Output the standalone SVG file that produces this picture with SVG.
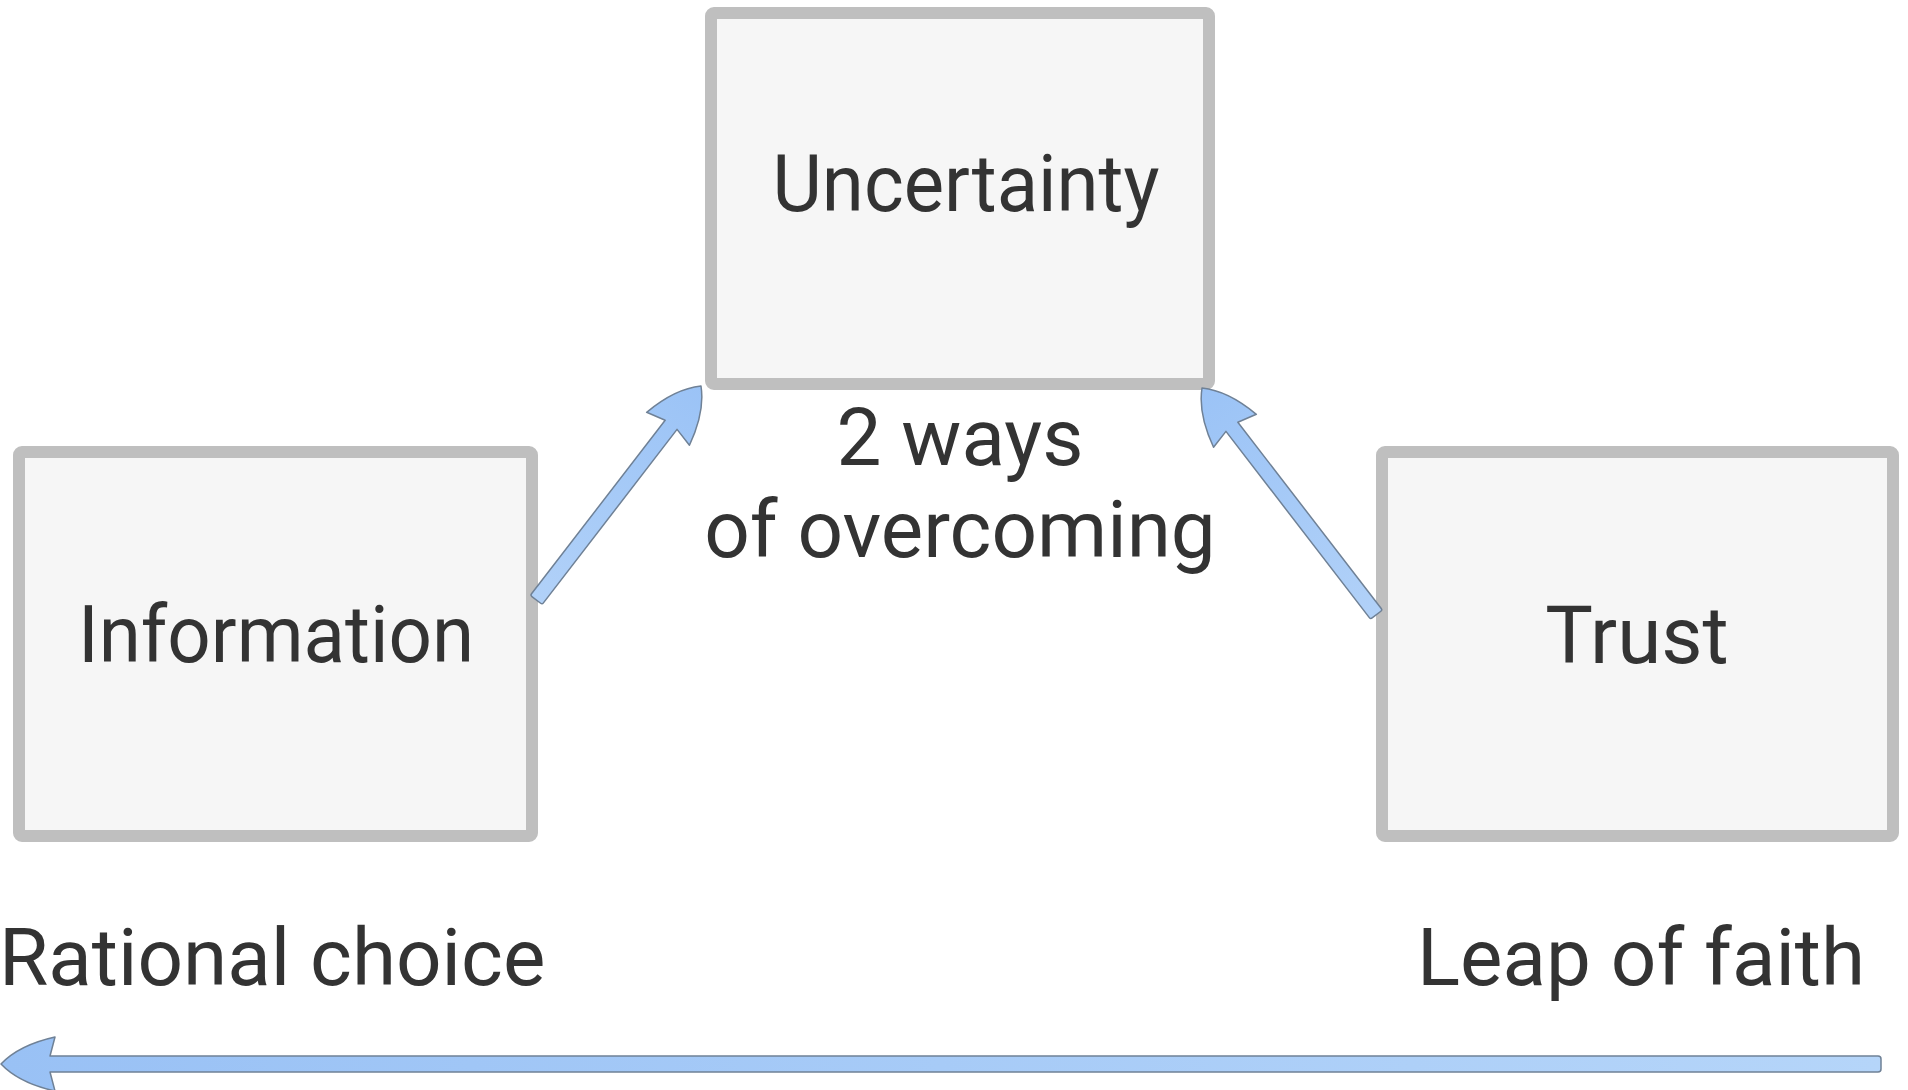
<svg xmlns="http://www.w3.org/2000/svg" width="1908" height="1090" viewBox="0 0 1908 1090">
  <style>
    .box { fill: #f6f6f6; stroke: #bfbfbf; stroke-width: 12; }
    .lbl { font-family: Roboto, "Liberation Sans", Arial, sans-serif; font-size: 80px; fill: #333333; }
    .mid { text-anchor: middle; }
    .arrow { stroke: #6f8196; stroke-width: 1.5; stroke-linejoin: round; }
  </style>
  <defs>
    <linearGradient id="blueFade" x1="0" y1="0" x2="1" y2="0">
      <stop offset="0" stop-color="#99c1f5"/>
      <stop offset="1" stop-color="#b5d5f9"/>
    </linearGradient>
    <linearGradient id="blueFadeShort" x1="0" y1="0" x2="1" y2="0">
      <stop offset="0" stop-color="#9bc3f6"/>
      <stop offset="1" stop-color="#b1d1f8"/>
    </linearGradient>
  </defs>

  <rect width="1908" height="1090" fill="#ffffff"/>

  <g id="node-uncertainty">
    <rect class="box" x="711" y="13" width="498" height="371" rx="3"/>
    <text class="lbl mid" x="966" y="211" textLength="387" lengthAdjust="spacingAndGlyphs">Uncertainty</text>
  </g>

  <g id="node-information">
    <rect class="box" x="19" y="452" width="513" height="384" rx="3"/>
    <text class="lbl mid" x="276" y="662" textLength="396" lengthAdjust="spacingAndGlyphs">Information</text>
  </g>

  <g id="node-trust">
    <rect class="box" x="1382" y="452" width="511" height="384" rx="3"/>
    <text class="lbl mid" x="1637" y="663">Trust</text>
  </g>

  <!-- block arrows: drawn with the tip at the origin pointing along -x, then placed -->
  <g id="connectors">
    <path class="arrow" fill="url(#blueFadeShort)" transform="translate(701 386) rotate(127.6)"
          d="M0,0 Q18,-19 54,-27 L49,-7.5 L268,-7.5 Q270,-7.5 270,-5.5 L270,5.5 Q270,7.5 268,7.5 L49,7.5 L54,27 Q18,19 0,0 Z"/>
    <path class="arrow" fill="url(#blueFadeShort)" transform="translate(1202 388) rotate(52.4)"
          d="M0,0 Q18,-19 54,-27 L49,-7.5 L284,-7.5 Q286,-7.5 286,-5.5 L286,5.5 Q286,7.5 284,7.5 L49,7.5 L54,27 Q18,19 0,0 Z"/>
    <path class="arrow" fill="url(#blueFade)" transform="translate(1 1064)"
          d="M0,0 Q18,-19 54,-27 L49,-8 L1877,-8 Q1880,-8 1880,-5 L1880,5 Q1880,8 1877,8 L49,8 L54,27 Q18,19 0,0 Z"/>
  </g>

  <g id="labels">
    <text class="lbl mid" x="960" y="465">2 ways</text>
    <text class="lbl mid" x="960" y="557">of overcoming</text>
    <text class="lbl" x="-1" y="985">Rational choice</text>
    <text class="lbl" x="1417" y="985">Leap of faith</text>
  </g>
</svg>
